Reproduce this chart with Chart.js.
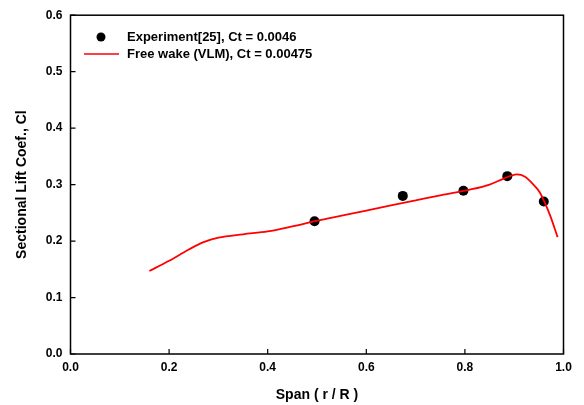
<!DOCTYPE html>
<html><head><meta charset="utf-8">
<script src="https://cdn.jsdelivr.net/npm/chart.js@4/dist/chart.umd.min.js"></script>
<style>html,body{margin:0;padding:0;background:#fff}#wrap{width:584px;height:405px}</style>
</head><body><div id="wrap"><canvas id="c" width="584" height="405"></canvas></div>
<script>
const expX = [0.495, 0.674, 0.797, 0.886, 0.960];
const expY = [0.235, 0.280, 0.289, 0.315, 0.270];
const vlmX = [0.16,0.20,0.24,0.27,0.30,0.35,0.40,0.45,0.50,0.55,0.60,0.65,0.70,0.75,0.81,0.85,0.88,0.905,0.922,0.939,0.952,0.962,0.973,0.988];
const vlmY = [0.147,0.165,0.185,0.198,0.206,0.212,0.217,0.226,0.236,0.245,0.254,0.263,0.272,0.281,0.291,0.300,0.311,0.318,0.314,0.300,0.286,0.268,0.245,0.207];
const xTicks = [0.0,0.2,0.4,0.6,0.8,1.0];
const yTicks = [0.0,0.1,0.2,0.3,0.4,0.5,0.6];
const labels = ["Experiment[25], Ct = 0.0046", "Free wake (VLM), Ct = 0.00475"];
const FONT = "Liberation Sans, Arial, sans-serif";

const framePlugin = {
  id: 'frame',
  afterDatasetsDraw(chart) {
    const {ctx, chartArea: a, scales: {x, y}} = chart;
    ctx.save();
    ctx.strokeStyle = '#000';
    ctx.lineWidth = 1.5;
    ctx.strokeRect(a.left, a.top, a.right - a.left, a.bottom - a.top);
    ctx.lineWidth = 1.2;
    ctx.beginPath();
    xTicks.forEach(v => { const px = x.getPixelForValue(v); ctx.moveTo(px, a.bottom); ctx.lineTo(px, a.bottom - 5); });
    yTicks.forEach(v => { const py = y.getPixelForValue(v); ctx.moveTo(a.left, py); ctx.lineTo(a.left + 5, py); });
    ctx.stroke();
    // legend
    ctx.font = "bold 13px " + FONT;
    ctx.fillStyle = '#000';
    ctx.textBaseline = 'middle';
    ctx.beginPath(); ctx.arc(101, 37, 4.5, 0, Math.PI * 2); ctx.fill();
    ctx.fillText(labels[0], 127, 37);
    ctx.strokeStyle = '#ff0000'; ctx.lineWidth = 1.5;
    ctx.beginPath(); ctx.moveTo(84, 54); ctx.lineTo(119, 54); ctx.stroke();
    ctx.fillText(labels[1], 127, 54);
    ctx.restore();
  }
};

new Chart(document.getElementById('c'), {
  type: 'scatter',
  data: {
    datasets: [
      { label: labels[1], data: vlmX.map((v, i) => ({x: v, y: vlmY[i]})), showLine: true,
        borderColor: '#ff0000', borderWidth: 1.8, pointRadius: 0, cubicInterpolationMode: 'monotone', fill: false },
      { label: labels[0], data: expX.map((v, i) => ({x: v, y: expY[i]})), showLine: false,
        backgroundColor: '#000', borderColor: '#000', pointRadius: 5, pointBorderWidth: 0 }
    ]
  },
  options: {
    responsive: false, animation: false, devicePixelRatio: 1,
    layout: { padding: { left: 0, right: 20.5, top: 10, bottom: 0 } },
    plugins: { legend: { display: false }, tooltip: { enabled: false } },
    scales: {
      x: {
        type: 'linear', min: 0, max: 1,
        afterBuildTicks: s => { s.ticks = xTicks.map(v => ({value: v})); },
        afterFit: s => { s.height = 51; },
        grid: { display: false, drawTicks: false }, border: { display: false },
        ticks: { color: '#000', font: { family: FONT, weight: 'bold', size: 12 }, padding: 6,
                 callback: v => Number(v).toFixed(1), maxRotation: 0 },
        title: { display: true, text: 'Span ( r / R )', color: '#000',
                 font: { family: FONT, weight: 'bold', size: 14 }, padding: { top: 4, bottom: 1 } }
      },
      y: {
        type: 'linear', min: 0, max: 0.6,
        afterBuildTicks: s => { s.ticks = yTicks.map(v => ({value: v})); },
        afterFit: s => { s.width = 70.5; },
        grid: { display: false, drawTicks: false }, border: { display: false },
        ticks: { color: '#000', font: { family: FONT, weight: 'bold', size: 12 }, padding: 8,
                 callback: v => Number(v).toFixed(1) },
        title: { display: true, text: 'Sectional Lift Coef., Cl', color: '#000',
                 font: { family: FONT, weight: 'bold', size: 14 }, padding: { top: 14, bottom: 0 } }
      }
    }
  },
  plugins: [framePlugin]
});
</script>
</body></html>
